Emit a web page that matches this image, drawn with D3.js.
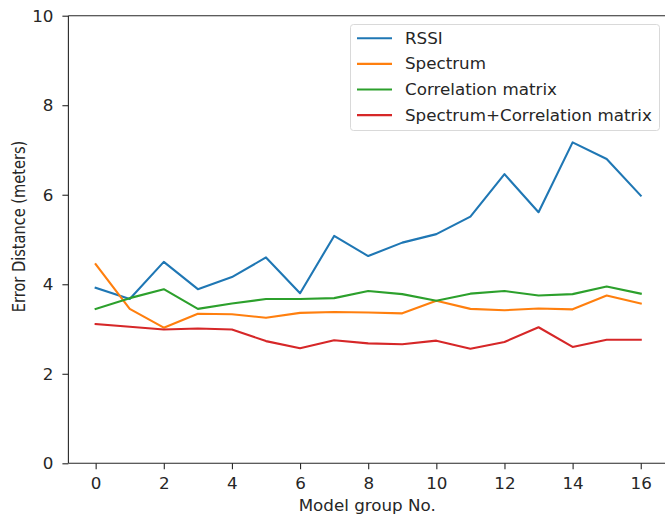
<!DOCTYPE html>
<html><head><meta charset="utf-8">
<script src="https://cdn.jsdelivr.net/npm/d3@7"></script>
<style>body{margin:0;background:#fff}svg{display:block}text{font-family:"DejaVu Sans",sans-serif;fill:#262626}</style>
</head><body><svg id="c" width="665" height="516"></svg>
<script>
const groups = d3.range(0, 17);
const seriesNames = ["RSSI", "Spectrum", "Correlation matrix", "Spectrum+Correlation matrix"];
const colors = ["#1f77b4", "#ff7f0e", "#2ca02c", "#d62728"];
const rssi = [3.92,3.67,4.50,3.89,4.16,4.60,3.80,5.08,4.63,4.93,5.12,5.51,6.46,5.61,7.17,6.80,5.98];
const spectrum = [4.45,3.45,3.03,3.34,3.33,3.25,3.36,3.38,3.37,3.35,3.63,3.45,3.42,3.46,3.44,3.75,3.57];
const corr = [3.45,3.69,3.89,3.45,3.57,3.67,3.67,3.69,3.85,3.78,3.63,3.79,3.85,3.75,3.78,3.95,3.79];
const combo = [3.11,3.05,2.99,3.01,2.99,2.73,2.57,2.75,2.68,2.66,2.74,2.56,2.71,3.04,2.60,2.76,2.76];
const xTicks = [0,2,4,6,8,10,12,14,16];
const yTicks = [0,2,4,6,8,10];
const allSeries = [rssi, spectrum, corr, combo];

const svg = d3.select("#c");
const L = 68.4, R = 668, T = 15.7, B = 463.3;
const FS = 15.2, SX = 1.1;
const x = d3.scaleLinear().domain([-0.8, 16.8]).range([L, R]);
const y = d3.scaleLinear().domain([0, 10]).range([B, T]);

const xAxis = svg.append("g").attr("transform", `translate(0,${B})`)
  .call(d3.axisBottom(x).tickValues(xTicks).tickSize(6).tickSizeOuter(0));
const yAxis = svg.append("g").attr("transform", `translate(${L},0)`)
  .call(d3.axisLeft(y).tickValues(yTicks).tickSize(6).tickSizeOuter(0));
[xAxis, yAxis].forEach(a => {
  a.select(".domain").remove();
  a.selectAll("line").attr("stroke", "#262626").attr("stroke-width", 1.1);
  a.selectAll("text").attr("font-size", FS).attr("fill", "#262626").style("font-family", "DejaVu Sans");
});
xAxis.selectAll("text").attr("y", 25.7).attr("dy", 0).attr("transform", `scale(${SX},1)`);
yAxis.selectAll("text").attr("x", -15 / SX).attr("dy", "0.36em").attr("transform", `scale(${SX},1)`);

// spines
svg.append("line").attr("x1", L).attr("x2", L).attr("y1", T).attr("y2", B).attr("stroke", "#262626").attr("stroke-width", 1.1);
svg.append("line").attr("x1", L).attr("x2", R).attr("y1", B).attr("y2", B).attr("stroke", "#262626").attr("stroke-width", 1.1);
svg.append("line").attr("x1", L).attr("x2", R).attr("y1", T).attr("y2", T).attr("stroke", "#262626").attr("stroke-width", 1.1);

const line = d3.line().x((d, i) => x(groups[i])).y(d => y(d));
allSeries.forEach((s, k) => {
  svg.append("path").datum(s).attr("d", line).attr("fill", "none")
    .attr("stroke", colors[k]).attr("stroke-width", 2.1).attr("stroke-linejoin", "round").attr("stroke-linecap", "square");
});

svg.append("g").attr("transform", `translate(${(L + R) / 2 - 1},511) scale(${SX},1)`)
  .append("text").attr("text-anchor", "middle").attr("font-size", FS).text("Model group No.");
svg.append("g").attr("transform", `translate(25,${(T + B) / 2 - 13}) scale(1.15,1) rotate(-90)`)
  .append("text").attr("text-anchor", "middle").attr("font-size", 14.6).text("Error Distance (meters)");

// legend
const lg = svg.append("g");
lg.append("rect").attr("x", 350.5).attr("y", 24.5).attr("width", 309).attr("height", 106).attr("rx", 3)
  .attr("fill", "#fff").attr("fill-opacity", 0.8).attr("stroke", "#d9d9d9");
seriesNames.forEach((n, k) => {
  const yy = 38.3 + k * 25.6;
  lg.append("line").attr("x1", 357).attr("x2", 392).attr("y1", yy).attr("y2", yy).attr("stroke", colors[k]).attr("stroke-width", 2.1);
  lg.append("g").attr("transform", `translate(405,${yy}) scale(${SX},1)`)
    .append("text").attr("dy", "0.36em").attr("font-size", FS).text(n);
});
</script></body></html>
